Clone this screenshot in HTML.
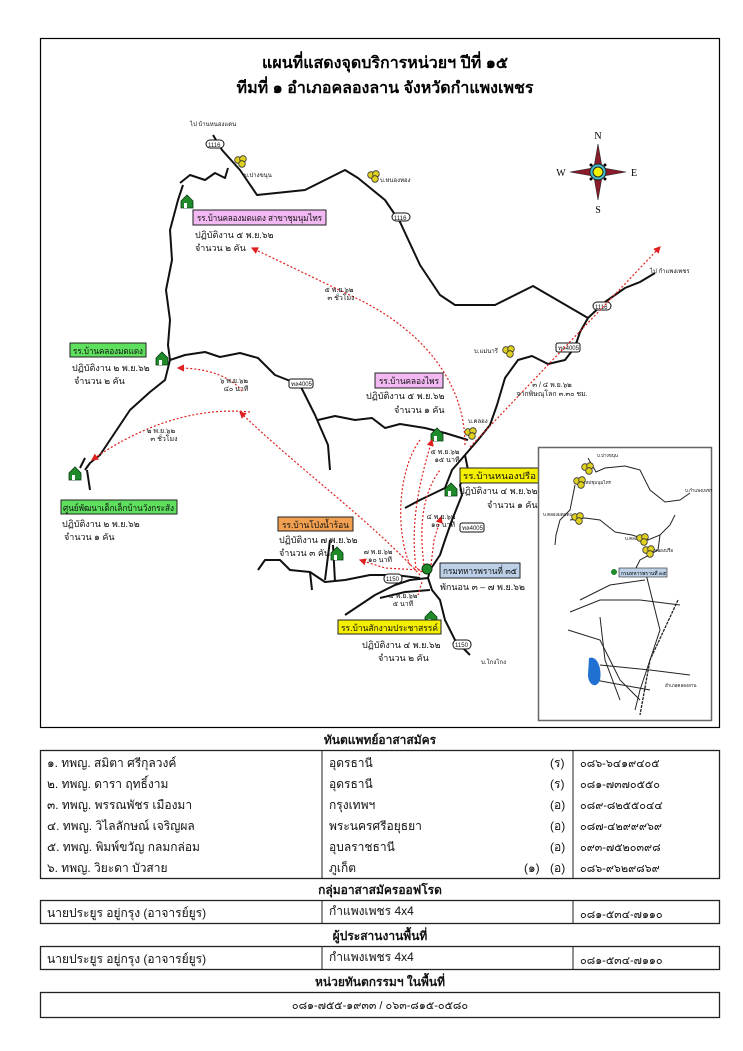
<!DOCTYPE html>
<html><head><meta charset="utf-8"><style>
body{margin:0;background:#fff;width:743px;height:1051px;overflow:hidden;font-family:"Liberation Sans","Noto Sans CJK SC",sans-serif}
svg{position:absolute;left:0;top:0}
</style></head><body>
<svg width="743" height="1051" viewBox="0 0 743 1051" font-family="Liberation Sans, Noto Sans CJK SC, sans-serif">
<defs>
<marker id="ah" markerWidth="6" markerHeight="6" refX="5" refY="3" orient="auto"><path d="M0,0 L6,3 L0,6 z" fill="#e02020"/></marker>
<g id="house"><path d="M0,6 L6,0 L12,6 L12,13 L0,13 z" fill="#1f8a2a" stroke="#0a3a10" stroke-width="0.8"/><rect x="3" y="8" width="3" height="5" fill="#fff"/></g>
<g id="vil"><circle cx="3" cy="5" r="3.3" fill="#e0d020" stroke="#333" stroke-width="0.8"/><circle cx="8" cy="4" r="3.3" fill="#e0d020" stroke="#333" stroke-width="0.8"/><circle cx="7" cy="9" r="3.3" fill="#e0d020" stroke="#333" stroke-width="0.8"/></g>
</defs>
<rect x="40.5" y="38.5" width="679" height="689" fill="none" stroke="#000" stroke-width="1.2"/>
<text x="385" y="68" font-size="16" font-weight="bold" text-anchor="middle">แผนที่แสดงจุดบริการหน่วยฯ ปีที่ ๑๕</text>
<text x="385" y="93" font-size="16" font-weight="bold" text-anchor="middle">ทีมที่ ๑  อำเภอคลองลาน จังหวัดกำแพงเพชร</text>

<g fill="none" stroke="#111" stroke-width="2" stroke-linejoin="round">
<path d="M213,135 L222,150 L240,170 L257,195 L305,190 L345,170 L358,178 L385,200 L400,222 L420,265 L440,295 L455,305 L495,305 L533,286 L588,318"/>
<path d="M588,318 L605,302 L625,288 L640,282 L655,273"/>
<path d="M180,183 L190,175 L205,180 L215,173 L225,178 L228,168"/>
<path d="M183,185 L178,200 L170,230 L172,260 L166,290 L170,320 L168,345 L170,360 L165,380 L150,392 L130,410 L110,440 L100,455 L90,463 L85,470"/>
<path d="M85,458 L80,468"/>
<path d="M87,470 L90,490"/>
<path d="M170,360 L185,355 L205,352 L220,357 L240,353 L258,358 L275,375 L293,382"/>
<path d="M300,385 L315,415 L328,445 L330,470"/>
<path d="M318,420 L335,416 L355,420 L372,418 L385,428 L400,424 L425,428 L445,433 L468,440"/>
<path d="M588,318 L580,332 L575,347 L565,360 L548,364 L532,356 L518,360 L505,378 L497,405 L490,425 L478,440 L465,455 L452,470 L445,488 L420,500 L405,508"/>
<path d="M465,455 L468,470 L460,485 L462,495 L452,520 L445,540 L440,555 L430,570 L428,578 L432,590 L440,600 L445,620 L455,640 L470,655"/>
<path d="M428,578 L410,580 L395,585 L375,595 L360,605 L345,615"/>
<path d="M430,590 L405,592 L380,598"/>
<path d="M258,570 L265,560 L280,560 L290,570 L310,572 L325,582 L345,580 L370,575 L395,575 L420,578"/>
<path d="M330,540 L325,580"/>
<path d="M333,545 L335,582"/>
<path d="M310,572 L312,590"/>
</g>
<g font-size="6" fill="#111">
<rect x="206" y="140" width="18" height="8" rx="4" fill="#fff" stroke="#111"/><text x="208" y="147">1116</text>
<rect x="392" y="213" width="18" height="8" rx="4" fill="#fff" stroke="#111"/><text x="394" y="220">1116</text>
<rect x="593" y="302" width="18" height="8" rx="4" fill="#fff" stroke="#111"/><text x="595" y="309">1116</text>
<rect x="556" y="343" width="24" height="9" rx="2" fill="#fff" stroke="#111"/><text x="558" y="350">ทล4005</text>
<rect x="289" y="379" width="24" height="9" rx="2" fill="#fff" stroke="#111"/><text x="291" y="386">ทล4005</text>
<rect x="460" y="523" width="24" height="9" rx="2" fill="#fff" stroke="#111"/><text x="462" y="530">ทล4005</text>
<rect x="384" y="574" width="18" height="9" rx="4" fill="#fff" stroke="#111"/><text x="386" y="581">1150</text>
<rect x="453" y="640" width="18" height="9" rx="4" fill="#fff" stroke="#111"/><text x="455" y="647">1150</text>
<text x="190" y="126">ไป บ้านหนองแดน</text>
<text x="244" y="177">บ.ปางขนุน</text>
<text x="380" y="182">บ.หนองทอง</text>
<text x="650" y="273">ไป กำแพงเพชร</text>
<text x="474" y="353">บ.แม่นารี</text>
<text x="468" y="423">บ.คลอง</text>
<text x="481" y="664">บ.โกงโกง</text>
</g>
<use href="#vil" x="235" y="155"/><use href="#vil" x="368" y="170"/><use href="#vil" x="503" y="345"/><use href="#vil" x="465" y="427"/>
<use href="#house" x="181" y="195"/><use href="#house" x="156" y="352"/><use href="#house" x="69" y="467"/><use href="#house" x="431" y="428"/><use href="#house" x="445" y="483"/><use href="#house" x="331" y="547"/><use href="#house" x="425" y="611"/>
<circle cx="427" cy="569" r="5" fill="#1f8a2a" stroke="#0a3a10"/>

<g fill="none" stroke="#e02020" stroke-width="1.2" stroke-dasharray="2,2">
<path d="M465,445 C465,380 420,330 360,300 L252,248" marker-end="url(#ah)"/>
<path d="M242,391 C232,378 210,368 178,368" marker-end="url(#ah)"/>
<path d="M420,575 C370,520 300,470 240,412" marker-end="url(#ah)"/>
<path d="M250,412 C180,405 120,440 92,460" marker-end="url(#ah)"/>
<path d="M410,565 C395,530 398,470 420,440" />
<path d="M416,568 C410,520 420,480 432,440" marker-end="url(#ah)"/>
<path d="M424,565 C418,520 425,490 440,470"/>
<path d="M422,572 L415,567" />
<path d="M431,565 L434,540 L441,517" marker-end="url(#ah)"/>
<path d="M420,570 L385,568 L360,560" marker-end="url(#ah)"/>
<path d="M422,582 L418,595"/>
<path d="M470,447 L660,247" marker-end="url(#ah)"/>
</g>
<g font-size="7" fill="#111" text-anchor="middle">
<text x="339" y="292">๕ พ.ย.๖๒</text><text x="341" y="300">๓ ชั่วโมง</text>
<text x="234" y="383">๖ พ.ย.๖๒</text><text x="236" y="391">๔๐ นาที</text>
<text x="161" y="433">๒ พ.ย.๖๒</text><text x="164" y="441">๓ ชั่วโมง</text>
<text x="445" y="454">๕ พ.ย.๖๒</text><text x="447" y="462">๑๕ นาที</text>
<text x="441" y="519">๔ พ.ย.๖๒</text><text x="443" y="527">๑๐ นาที</text>
<text x="378" y="554">๗ พ.ย.๖๒</text><text x="380" y="562">๑๐ นาที</text>
<text x="403" y="598">๔ พ.ย.๖๒</text><text x="403" y="606">๕ นาที</text>
<text x="552" y="387">๓ / ๔ พ.ย.๖๒</text><text x="552" y="396">จากพิษณุโลก ๓.๓๐ ชม.</text>
</g>
<g font-size="9" fill="#111">
<rect x="193" y="210" width="133" height="15" fill="#f2b8f2" stroke="#222"/><text x="197" y="221" textLength="125" lengthAdjust="spacingAndGlyphs">รร.บ้านคลองมดแดง สาขาชุมนุมไทร</text>
<text x="195" y="238">ปฏิบัติงาน ๕ พ.ย.๖๒</text><text x="195" y="251">จำนวน ๒ คัน</text>
<rect x="70" y="343" width="76" height="14" fill="#5ee05e" stroke="#222"/><text x="73" y="354" textLength="70" lengthAdjust="spacingAndGlyphs">รร.บ้านคลองมดแดง</text>
<text x="72" y="371">ปฏิบัติงาน ๒ พ.ย.๖๒</text><text x="74" y="384">จำนวน ๒ คัน</text>
<rect x="375" y="373" width="68" height="15" fill="#f2b8f2" stroke="#222"/><text x="379" y="384" textLength="60" lengthAdjust="spacingAndGlyphs">รร.บ้านคลองไพร</text>
<text x="366" y="399">ปฏิบัติงาน ๕ พ.ย.๖๒</text><text x="394" y="413">จำนวน ๑ คัน</text>
<rect x="460" y="468" width="80" height="15" fill="#f5f000" stroke="#222"/><text x="463" y="479" textLength="73" lengthAdjust="spacingAndGlyphs">รร.บ้านหนองปรือ</text>
<text x="459" y="494">ปฏิบัติงาน ๔ พ.ย.๖๒</text><text x="487" y="508">จำนวน ๑ คัน</text>
<rect x="61" y="500" width="116" height="14" fill="#5ee05e" stroke="#222"/><text x="63" y="511" textLength="111" lengthAdjust="spacingAndGlyphs">ศูนย์พัฒนาเด็กเล็กบ้านวังกระสัง</text>
<text x="62" y="527">ปฏิบัติงาน ๒ พ.ย.๖๒</text><text x="64" y="540">จำนวน ๑ คัน</text>
<rect x="278" y="517" width="75" height="14" fill="#f0a050" stroke="#222"/><text x="282" y="528" textLength="67" lengthAdjust="spacingAndGlyphs">รร.บ้านโป่งน้ำร้อน</text>
<text x="279" y="543">ปฏิบัติงาน ๗ พ.ย.๖๒</text><text x="279" y="556">จำนวน ๓ คัน</text>
<rect x="440" y="563" width="80" height="15" fill="#bcd0e8" stroke="#222"/><text x="443" y="574" textLength="74" lengthAdjust="spacingAndGlyphs">กรมทหารพรานที่ ๓๕</text>
<text x="440" y="590">พักนอน  ๓ – ๗ พ.ย.๖๒</text>
<rect x="338" y="620" width="103" height="14" fill="#f5f000" stroke="#222"/><text x="341" y="631" textLength="97" lengthAdjust="spacingAndGlyphs">รร.บ้านสักงามประชาสรรค์</text>
<text x="362" y="648">ปฏิบัติงาน ๔ พ.ย.๖๒</text><text x="378" y="661">จำนวน ๒ คัน</text>
</g>

<g transform="translate(598,172)">
<path d="M0,-28 L4,-5 L0,0 L-4,-5 z M0,28 L4,5 L0,0 L-4,5 z M-28,0 L-5,4 L0,0 L-5,-4 z M28,0 L5,4 L0,0 L5,-4 z" fill="#8b1a2a" stroke="#222" stroke-width="0.6"/>
<circle r="8" fill="#40c0d0" stroke="#222"/><circle r="5" fill="#f0f000" stroke="#222"/>
<circle cx="-7" cy="-7" r="1.5"/><circle cx="7" cy="-7" r="1.5"/><circle cx="-7" cy="7" r="1.5"/><circle cx="7" cy="7" r="1.5"/>
<text x="0" y="-33" font-family="Liberation Serif" font-size="10" text-anchor="middle">N</text>
<text x="0" y="41" font-family="Liberation Serif" font-size="10" text-anchor="middle">S</text>
<text x="-37" y="4" font-family="Liberation Serif" font-size="10" text-anchor="middle">W</text>
<text x="36" y="4" font-family="Liberation Serif" font-size="10" text-anchor="middle">E</text>
</g>

<rect x="538.5" y="447.5" width="173" height="273" fill="#fff" stroke="#666" stroke-width="1.5"/>
<g fill="none" stroke="#222" stroke-width="1">
<path d="M588,458 L596,472 L605,468 L625,466 L640,470 L650,490 L665,502 L680,500 L690,493"/>
<path d="M575,485 L570,510 L560,520 L556,535 L555,545"/>
<path d="M570,520 L585,518 L600,520 L615,532"/>
<path d="M615,532 L632,535 L648,540 L660,535 L670,525 L675,515"/>
<path d="M660,535 L658,550 L640,560 L635,570"/>
<path d="M645,570 L650,590 L655,610 L660,630 L650,660 L640,690 L635,710"/>
<path d="M580,600 L610,585 L645,580"/>
<path d="M570,612 L600,600 L640,600 L680,605"/>
<path d="M568,630 L600,640 L610,660 L620,680 L640,700"/>
<path d="M600,665 L650,670 L690,675"/>
<path d="M595,680 L650,690"/>
<path d="M600,617 L605,660 L620,700"/>
</g>
<path d="M678,600 L650,660 L640,715" stroke="#222" stroke-width="1.3" fill="none" stroke-dasharray="3,1"/>
<path d="M589,658 C598,655 602,670 600,680 C596,690 588,684 588,675 z" fill="#1f70d0"/>
<rect x="619" y="568" width="48" height="9" fill="#bcd0e8" stroke="#222" stroke-width="0.6"/>
<text x="621" y="575" font-size="5">กรมทหารพรานที่ ๓๕</text>
<circle cx="614" cy="572" r="3" fill="#1f8a2a"/>
<g font-size="4.5" fill="#111">
<text x="597" y="457">บ.ปางขนุน</text><text x="579" y="484">บ.ใหม่ชุมนุมไทร</text><text x="543" y="516">บ.คลองมดแดง</text>
<text x="625" y="540">บ.คลองไพร</text><text x="650" y="552">บ.หนองปรือ</text><text x="685" y="492">บ.กำแพงเพชร</text>
<text x="665" y="687">อำเภอคลองลาน</text>
</g>
<use href="#vil" x="582" y="462"/><use href="#vil" x="574" y="476"/><use href="#vil" x="572" y="512"/><use href="#vil" x="637" y="533"/><use href="#vil" x="643" y="545"/>

<g font-size="12" fill="#111">
<text x="380" y="744" font-weight="bold" text-anchor="middle">ทันตแพทย์อาสาสมัคร</text>
<rect x="40.5" y="750.5" width="679" height="128" fill="none" stroke="#222" stroke-width="1.3"/>
<line x1="322" y1="750" x2="322" y2="879" stroke="#222"/><line x1="573" y1="750" x2="573" y2="879" stroke="#222"/>
<text x="47" y="767">๑. ทพญ. สมิตา  ศรีกุลวงค์</text><text x="329" y="767">อุดรธานี</text><text x="550" y="767">(ร)</text><text x="580" y="767" font-size="11">๐๘๖-๖๔๑๙๔๐๕</text>
<text x="47" y="788">๒. ทพญ. ดารา  ฤทธิ์งาม</text><text x="329" y="788">อุดรธานี</text><text x="550" y="788">(ร)</text><text x="580" y="788" font-size="11">๐๘๑-๗๓๗๐๕๕๐</text>
<text x="47" y="809">๓. ทพญ. พรรณพัชร  เมืองมา</text><text x="329" y="809">กรุงเทพฯ</text><text x="550" y="809">(อ)</text><text x="580" y="809" font-size="11">๐๘๙-๘๒๕๕๐๔๔</text>
<text x="47" y="830">๔. ทพญ. วิไลลักษณ์  เจริญผล</text><text x="329" y="830">พระนครศรีอยุธยา</text><text x="550" y="830">(อ)</text><text x="580" y="830" font-size="11">๐๘๗-๔๒๙๙๙๖๙</text>
<text x="47" y="851">๕. ทพญ. พิมพ์ขวัญ  กลมกล่อม</text><text x="329" y="851">อุบลราชธานี</text><text x="550" y="851">(อ)</text><text x="580" y="851" font-size="11">๐๙๓-๗๕๒๐๓๙๘</text>
<text x="47" y="872">๖. ทพญ. วิยะดา  บัวสาย</text><text x="329" y="872">ภูเก็ต</text><text x="524" y="872">(๑)</text><text x="550" y="872">(อ)</text><text x="580" y="872" font-size="11">๐๘๖-๙๖๒๙๘๖๙</text>
<text x="380" y="894" font-weight="bold" text-anchor="middle">กลุ่มอาสาสมัครออฟโรด</text>
<rect x="40.5" y="900.5" width="679" height="23" fill="none" stroke="#222" stroke-width="1.3"/>
<line x1="322" y1="900" x2="322" y2="924" stroke="#222"/><line x1="573" y1="900" x2="573" y2="924" stroke="#222"/>
<text x="47" y="917">นายประยูร  อยู่กรุง (อาจารย์ยูร)</text><text x="329" y="915">กำแพงเพชร 4x4</text><text x="580" y="918" font-size="11">๐๘๑-๕๓๔-๗๑๑๐</text>
<text x="380" y="940" font-weight="bold" text-anchor="middle">ผู้ประสานงานพื้นที่</text>
<rect x="40.5" y="946.5" width="679" height="23" fill="none" stroke="#222" stroke-width="1.3"/>
<line x1="322" y1="946" x2="322" y2="970" stroke="#222"/><line x1="573" y1="946" x2="573" y2="970" stroke="#222"/>
<text x="47" y="963">นายประยูร  อยู่กรุง (อาจารย์ยูร)</text><text x="329" y="961">กำแพงเพชร 4x4</text><text x="580" y="964" font-size="11">๐๘๑-๕๓๔-๗๑๑๐</text>
<text x="380" y="986" font-weight="bold" text-anchor="middle">หน่วยทันตกรรมฯ ในพื้นที่</text>
<rect x="40.5" y="992.5" width="679" height="25" fill="none" stroke="#222" stroke-width="1.3"/>
<text x="380" y="1009" font-size="11" text-anchor="middle">๐๘๑-๗๕๕-๑๙๓๓  /  ๐๖๓-๘๑๕-๐๕๘๐</text>
</g>
</svg>
</body></html>
